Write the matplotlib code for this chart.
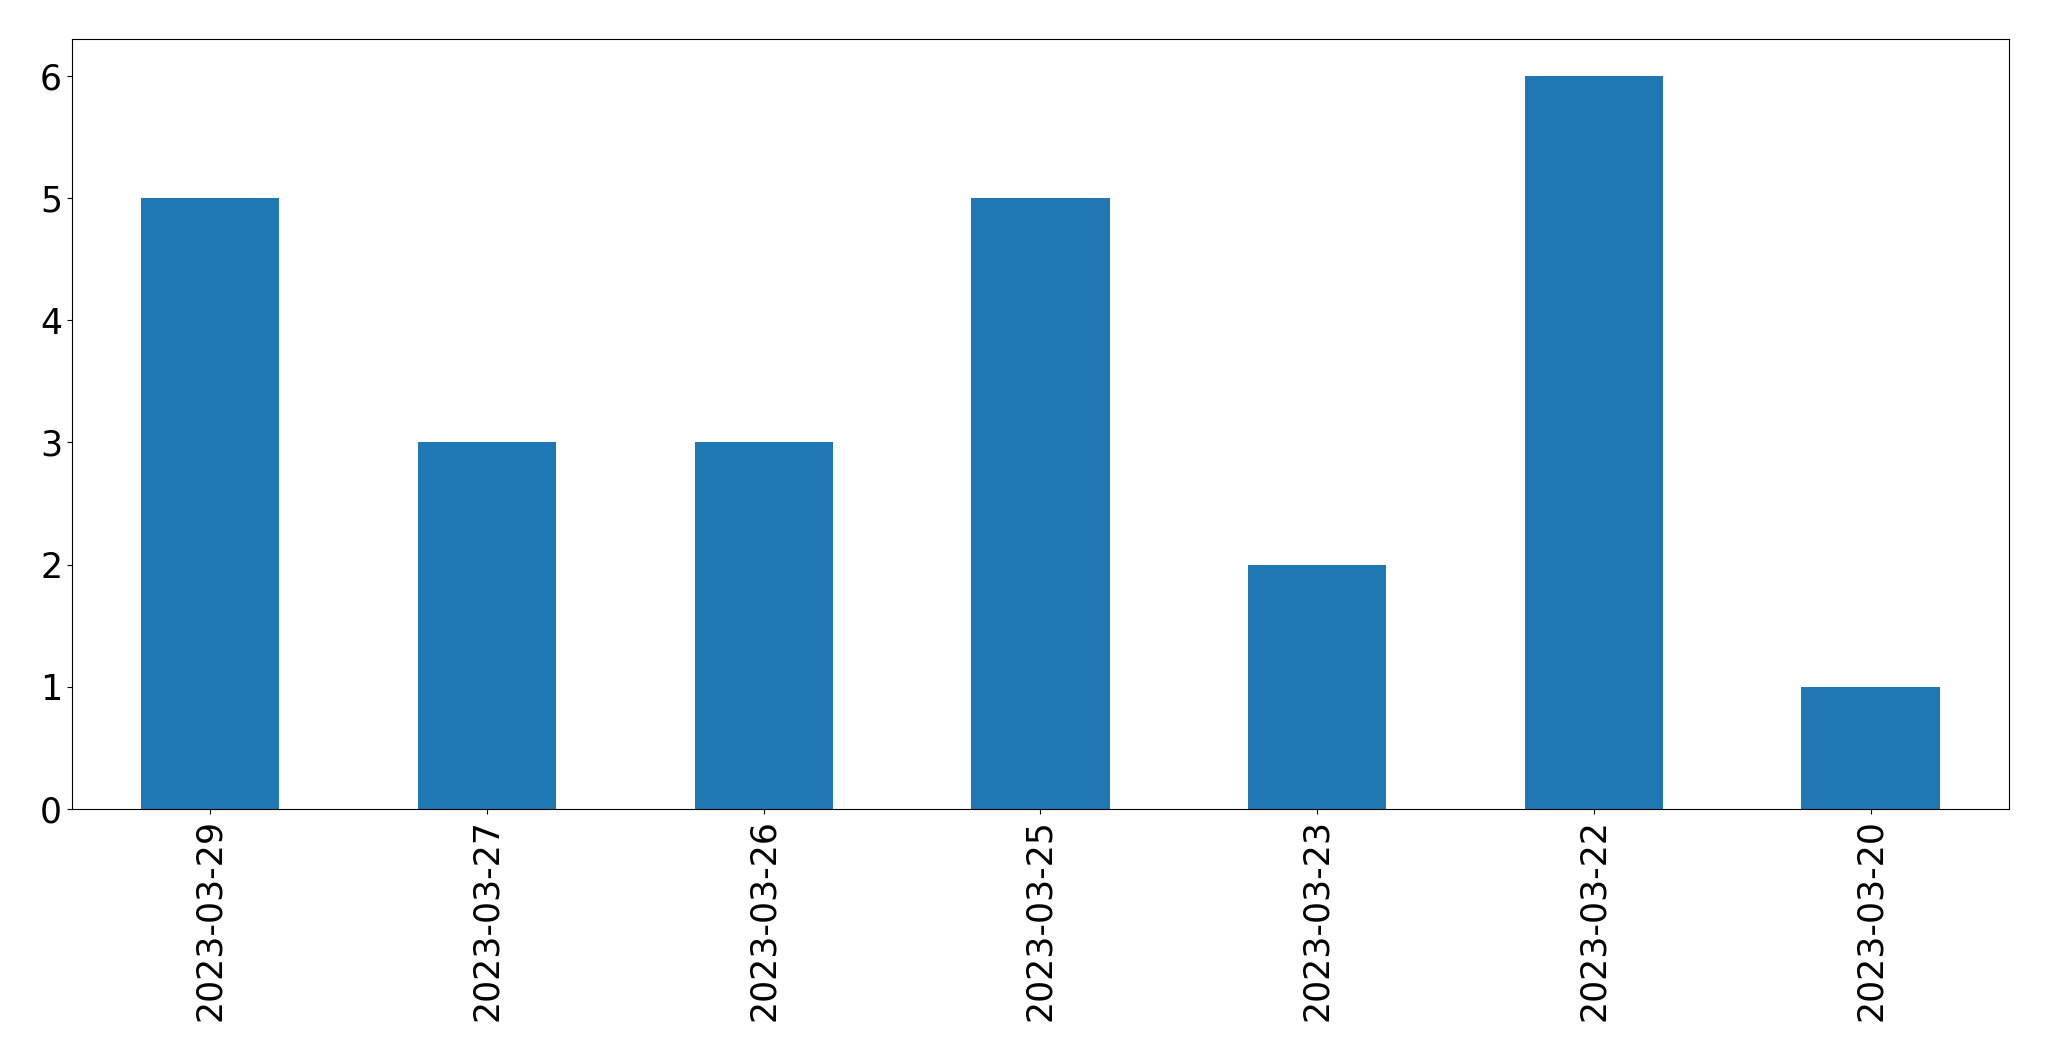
import pandas as pd
import matplotlib
matplotlib.use("Agg")
import matplotlib.pyplot as plt

# contagem por data
datas = ["2023-03-29", "2023-03-27", "2023-03-26", "2023-03-25",
         "2023-03-23", "2023-03-22", "2023-03-20"]
contagens = [5, 3, 3, 5, 2, 6, 1]

serie = pd.Series(contagens, index=datas)

fig, ax = plt.subplots(figsize=(20.49, 10.61), dpi=100)
serie.plot(kind="bar", ax=ax, fontsize=25, color="#1f77b4")
fig.subplots_adjust(left=0.0351, right=0.9805, top=0.9632, bottom=0.2375)

fig.savefig("out.png", dpi=100)
